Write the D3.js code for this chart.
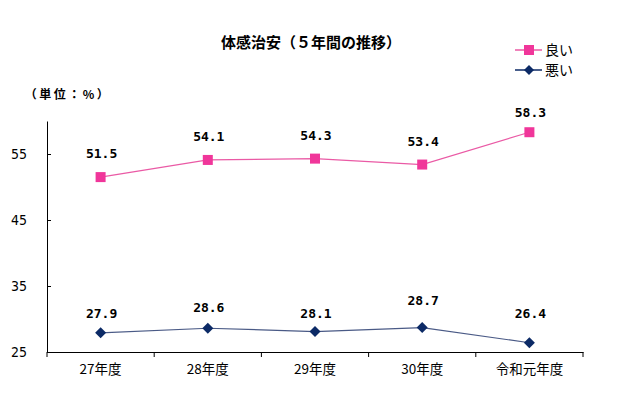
<!DOCTYPE html>
<html><head><meta charset="utf-8">
<script src="https://cdn.jsdelivr.net/npm/d3@7"></script>
<style>body{margin:0;background:#fff}</style>
</head><body>
<svg id="c" width="643" height="417"></svg>
<script>
const categories = ["27年度", "28年度", "29年度", "30年度", "令和元年度"];
const goodValues = [51.5, 54.1, 54.3, 53.4, 58.3];
const badValues = [27.9, 28.6, 28.1, 28.7, 26.4];
const yTicks = [25, 35, 45, 55];
const seriesNames = ["良い", "悪い"];
// label offsets (px above point) — layout only
const goodLabelOffset = [24, 24, 24, 24, 20];
const badLabelOffset = [20, 21, 19, 28, 30];

(function () {
const svg = d3.select("#c");
const mLeft = 47, mRight = 583, mTop = 121, mBottom = 352;
const x = d3.scaleBand().domain(categories).range([mLeft, mRight]);
const y = d3.scaleLinear().domain([25, 60]).range([mBottom, mTop]);
const cjk = "'Noto Sans CJK JP', sans-serif";
const narrow = "'Liberation Sans Narrow', 'DejaVu Sans Condensed', sans-serif";
const mono = "'DejaVu Sans Mono', monospace";

// title
svg.append("text").attr("x", 311).attr("y", 48).attr("text-anchor", "middle")
  .attr("font-family", cjk).attr("font-weight", "bold").attr("font-size", 15)
  .text("体感治安（５年間の推移）");
svg.append("text").attr("x", 68).attr("y", 99).attr("text-anchor", "middle")
  .attr("font-family", cjk).attr("font-weight", "bold").attr("font-size", 12)
  .attr("letter-spacing", 2.5)
  .text("（単位：%）");

// y axis
const yAxis = d3.axisLeft(y).tickValues(yTicks).tickSize(-4).tickPadding(20).tickSizeOuter(0);
const gy = svg.append("g").attr("transform", `translate(${mLeft},0)`).call(yAxis);
gy.select(".domain").attr("stroke", "#000");
gy.selectAll(".tick line").attr("stroke", "#000");
gy.selectAll(".tick text").attr("font-family", narrow).attr("font-size", 14).attr("fill", "#000");

// x axis
const xAxis = d3.axisBottom(x).tickSize(0).tickPadding(12);
const gx = svg.append("g").attr("transform", `translate(0,${mBottom})`).call(xAxis);
gx.select(".domain").attr("stroke", "#000");
gx.selectAll(".tick text").attr("font-family", cjk).attr("font-size", 13.5).attr("fill", "#000");
const bounds = categories.map(c => x(c)).concat([x(categories[categories.length-1]) + x.bandwidth()]);
gx.selectAll(".bt").data(bounds).enter().append("line")
  .attr("x1", d => d).attr("x2", d => d).attr("y1", 0).attr("y2", 5).attr("stroke", "#000");

const cx = c => x(c) + x.bandwidth() / 2;
const line = d3.line().x((d, i) => cx(categories[i])).y(d => y(d));

const pink = "#f0369a", navy = "#0c2a66";
svg.append("path").datum(goodValues).attr("d", line).attr("fill", "none")
  .attr("stroke", "#ea5aa5").attr("stroke-width", 1.2);
svg.append("path").datum(badValues).attr("d", line).attr("fill", "none")
  .attr("stroke", "#4a5a86").attr("stroke-width", 1.2);

svg.selectAll(".sq").data(goodValues).enter().append("rect")
  .attr("x", (d, i) => cx(categories[i]) - 5).attr("y", d => y(d) - 5)
  .attr("width", 10).attr("height", 10).attr("fill", pink);
svg.selectAll(".dm").data(badValues).enter().append("path")
  .attr("d", (d, i) => { const px = cx(categories[i]), py = y(d); return `M${px},${py-5.5}L${px+5.5},${py}L${px},${py+5.5}L${px-5.5},${py}Z`; })
  .attr("fill", navy);

svg.selectAll(".gl").data(goodValues).enter().append("text")
  .attr("x", (d, i) => cx(categories[i]) + 1).attr("y", (d, i) => y(d) - goodLabelOffset[i] + 5)
  .attr("text-anchor", "middle").attr("font-family", mono).attr("font-weight", "bold").attr("font-size", 13)
  .text(d => d.toFixed(1));
svg.selectAll(".bl").data(badValues).enter().append("text")
  .attr("x", (d, i) => cx(categories[i]) + 1).attr("y", (d, i) => y(d) - badLabelOffset[i] + 5)
  .attr("text-anchor", "middle").attr("font-family", mono).attr("font-weight", "bold").attr("font-size", 13)
  .text(d => d.toFixed(1));

// legend
const lg = svg.append("g");
[0, 1].forEach(i => {
  const ly = 50 + i * 20;
  lg.append("line").attr("x1", 515).attr("x2", 542).attr("y1", ly).attr("y2", ly)
    .attr("stroke", i === 0 ? "#ea5aa5" : "#0c2a66").attr("stroke-width", 1.5);
  if (i === 0) lg.append("rect").attr("x", 524).attr("y", ly - 5).attr("width", 10).attr("height", 10).attr("fill", pink);
  else lg.append("path").attr("d", `M529,${ly-5}L534,${ly}L529,${ly+5}L524,${ly}Z`).attr("fill", navy);
  lg.append("text").attr("x", 545).attr("y", ly + 5).attr("font-family", cjk).attr("font-size", 14)
    .text(seriesNames[i]);
});
})();
</script>
</body></html>
